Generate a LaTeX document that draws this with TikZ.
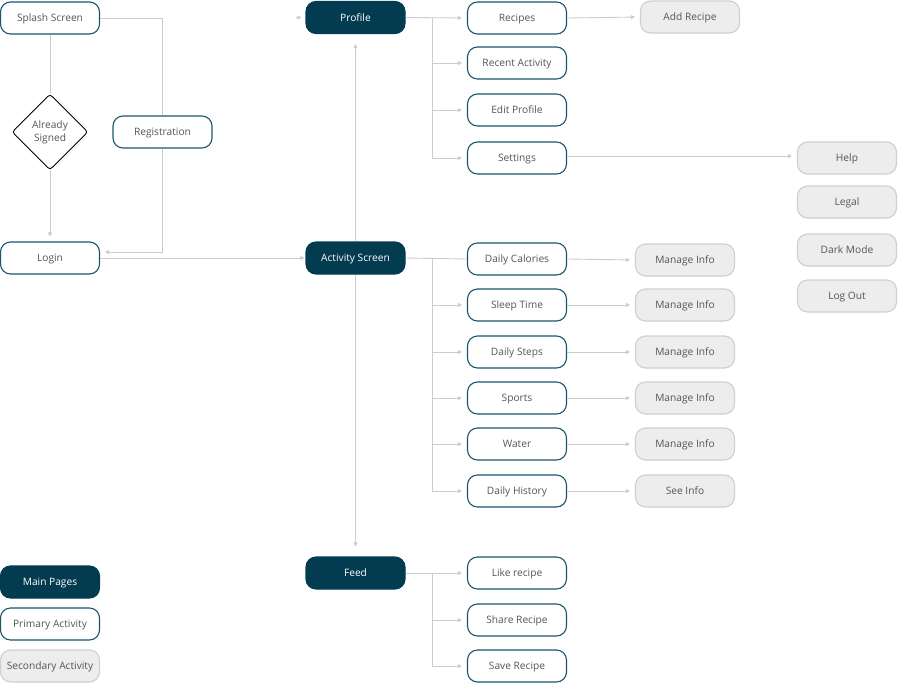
\documentclass[tikz,border=0pt]{standalone}
\usepackage{fontspec}
\setmainfont{Open Sans}
\usetikzlibrary{arrows.meta,shapes.geometric}
\definecolor{navy}{HTML}{033B50}
\definecolor{primb}{HTML}{1A5670}
\definecolor{secfill}{HTML}{EDEDED}
\definecolor{secb}{HTML}{CFCFCF}
\definecolor{txt}{HTML}{555555}
\definecolor{ln}{HTML}{CCCCCC}
\tikzset{
  boxbase/.style={rounded corners=10pt, minimum width=99pt, minimum height=32pt, inner sep=0pt, text height=8pt, text depth=0.7pt, line width=1.1pt, font=\fontsize{10.2}{12}\selectfont},
  mainbox/.style={boxbase, fill=navy, draw=navy, text=white},
  primbox/.style={boxbase, fill=white, draw=primb, text=txt},
  secbox/.style={boxbase, fill=secfill, draw=secb, text=txt},
  decbox/.style={diamond, aspect=1, minimum size=76pt, inner sep=0pt, draw=black, line width=0.9pt, rounded corners=3pt, fill=white, text=txt, align=center, font=\fontsize{10.2}{13}\selectfont},
  conn/.style={draw=ln, line width=0.9pt},
  arr/.style={conn, -{Triangle[length=4pt,width=4pt]}, shorten >=5pt},
}
\begin{document}
\begin{tikzpicture}[x=1pt,y=-1pt]
\useasboundingbox (0,0) rectangle (898,683);
% left flow
\node[primbox] (splash) at (50,18) {Splash Screen};
\node[decbox] (signed) at (50,132) {Already\\Signed};
\node[primbox] (reg) at (162.5,132) {Registration};
\node[primbox] (login) at (50,258) {Login};
% main pages
\node[mainbox] (prof) at (355.5,17.5) {Profile};
\node[mainbox] (act) at (355.5,258) {Activity Screen};
\node[mainbox] (feed) at (355.5,573) {Feed};
% profile children
\node[primbox] (recipes) at (517,18) {Recipes};
\node[primbox] (recent) at (517,63) {Recent Activity};
\node[primbox] (edit) at (517,110) {Edit Profile};
\node[primbox] (settings) at (517,158) {Settings};
\node[secbox] (addrec) at (690,17) {Add Recipe};
\node[secbox] (help) at (847,158) {Help};
\node[secbox] (legal) at (847,202) {Legal};
\node[secbox] (dark) at (847,250) {Dark Mode};
\node[secbox] (logout) at (847,296) {Log Out};
% activity children
\node[primbox] (cal) at (517,259) {Daily Calories};
\node[primbox] (sleep) at (517,305) {Sleep Time};
\node[primbox] (steps) at (517,352) {Daily Steps};
\node[primbox] (sports) at (517,398) {Sports};
\node[primbox] (water) at (517,444) {Water};
\node[primbox] (hist) at (517,491) {Daily History};
\node[secbox] (mcal) at (685,260) {Manage Info};
\node[secbox] (msleep) at (685,305) {Manage Info};
\node[secbox] (msteps) at (685,352) {Manage Info};
\node[secbox] (msports) at (685,398) {Manage Info};
\node[secbox] (mwater) at (685,444) {Manage Info};
\node[secbox] (mhist) at (685,491) {See Info};
% feed children
\node[primbox] (like) at (517,573) {Like recipe};
\node[primbox] (share) at (517,620) {Share Recipe};
\node[primbox] (save) at (517,666) {Save Recipe};
% legend
\node[mainbox] (lmain) at (50,582) {Main Pages};
\node[primbox] (lprim) at (50,624) {Primary Activity};
\node[secbox] (lsec) at (50,666) {Secondary Activity};

% connectors: left flow
\draw[conn] (splash) -- (signed);
\draw[arr] (signed) -- (login);
\draw[conn] (splash.east) -| (reg.north);
\draw[arr] (reg.south) |- ([yshift=6pt]login.east);
\draw[arr, shorten >=1pt] (login.east) -- (act.west);
\coordinate (stub) at (296,17.5);
\draw[arr, shorten >=4pt] (stub) -- (prof.west);
\draw[arr, shorten >=10pt] (act.north) -- (prof.south);
\draw[arr, shorten >=10pt] (act.south) -- (feed.north);
% profile branch
\coordinate (tp) at (432,17.5);
\draw[arr] (prof.east) -- (recipes.west);
\draw[arr] (tp) |- (recent.west);
\draw[arr] (tp) |- (edit.west);
\draw[arr] (tp) |- (settings.west);
\draw[arr] (recipes.east) -- (addrec.west);
\draw[arr] ([yshift=2pt]settings.east) -- ([yshift=2pt]help.west);
% activity branch
\coordinate (ta) at (432,258);
\draw[conn] (act.east) -- (cal.west);
\draw[arr] (ta) |- (sleep.west);
\draw[arr] (ta) |- (steps.west);
\draw[arr] (ta) |- (sports.west);
\draw[arr] (ta) |- (water.west);
\draw[arr] (ta) |- (hist.west);
\draw[arr] (cal.east) -- (mcal.west);
\draw[arr] (sleep.east) -- (msleep.west);
\draw[arr] (steps.east) -- (msteps.west);
\draw[arr] (sports.east) -- (msports.west);
\draw[arr] (water.east) -- (mwater.west);
\draw[arr] (hist.east) -- (mhist.west);
% feed branch
\coordinate (tf) at (432,573);
\draw[arr] (feed.east) -- (like.west);
\draw[arr] (tf) |- (share.west);
\draw[arr] (tf) |- (save.west);
\end{tikzpicture}
\end{document}
